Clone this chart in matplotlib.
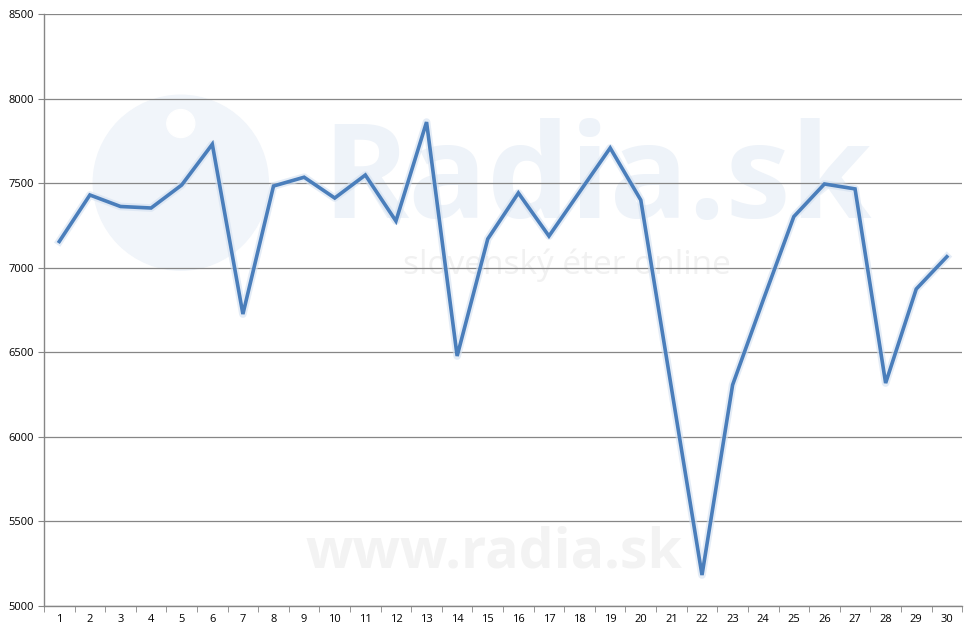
import numpy as np
import matplotlib
matplotlib.use("Agg")
import matplotlib.pyplot as plt
from matplotlib.patches import Ellipse

days = list(range(1, 31))
listeners = [7155, 7430, 7362, 7353, 7489, 7730, 6726, 7483, 7535, 7412,
             7548, 7276, 7861, 6478, 7170, 7442, 7187, 7448, 7708, 7400,
             6290, 5183, 6307, 6809, 7302, 7495, 7466, 6318, 6874, 7065]
yticks = [5000, 5500, 6000, 6500, 7000, 7500, 8000, 8500]

plt.rcParams['font.family'] = ['Open Sans', 'DejaVu Sans']

fig = plt.figure(figsize=(9.77, 6.37), dpi=100)
ax = fig.add_axes([0.045, 0.0487, 0.9398, 0.9293])

# faint watermark behind the line
ax.add_patch(Ellipse((0.149, 0.715), 175 / 918, 175 / 592, transform=ax.transAxes,
                     color='#f1f5fa', zorder=0.1))
ax.add_patch(Ellipse((0.149, 0.815), 28 / 918, 28 / 592, transform=ax.transAxes,
                     color='white', zorder=0.2))
ax.text(0.602, 0.712, "Radia.sk", fontsize=94, fontweight='bold', color='#eef3f9',
        ha='center', va='center', transform=ax.transAxes, zorder=0.1)
ax.text(0.57, 0.575, "slovenský éter online", fontsize=24, color='#f1f1f1',
        ha='center', va='center', transform=ax.transAxes, zorder=0.1)
ax.text(0.49, 0.09, "www.radia.sk", fontsize=40, fontweight='bold', color='#f3f3f3',
        ha='center', va='center', transform=ax.transAxes, zorder=0.1)

x = np.array(days)
ax.plot(x, listeners, color='#d3e0f0', linewidth=5.5, alpha=0.6,
        solid_joinstyle='round', zorder=2)
ax.plot(x, listeners, color='#4a7ebb', linewidth=2.6, solid_joinstyle='miter', zorder=3)

ax.set_xlim(0.5, 30.5)
ax.set_ylim(5000, 8500)
ax.set_yticks(yticks)
ax.set_yticklabels([str(v) for v in yticks], fontsize=8)
ax.set_xticks(x)
ax.set_xticklabels([str(d) for d in days], fontsize=8)
ax.set_xticks(np.arange(0.5, 31, 1), minor=True)
ax.tick_params(axis='x', which='major', length=0, pad=6)
ax.tick_params(axis='x', which='minor', length=4, color='#868686', direction='out')
ax.tick_params(axis='y', length=4, color='#868686', pad=3)
ax.grid(axis='y', color='#868686', linewidth=0.9, zorder=1)
ax.set_axisbelow(True)

for s in ['top', 'right']:
    ax.spines[s].set_visible(False)
for s in ['left', 'bottom']:
    ax.spines[s].set_color('#868686')
    ax.spines[s].set_linewidth(1)

fig.savefig("out.png", dpi=100)
